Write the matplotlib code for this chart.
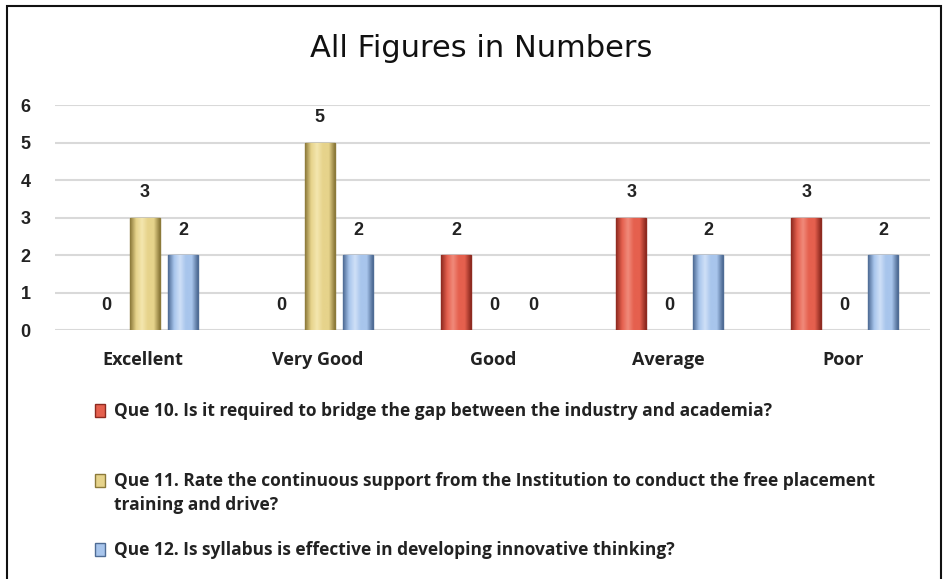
import numpy as np
import matplotlib.pyplot as plt
from matplotlib.patches import Rectangle, Patch
from matplotlib.colors import LinearSegmentedColormap

categories = ["Excellent", "Very Good", "Good", "Average", "Poor"]
que10 = [0, 0, 2, 3, 3]
que11 = [3, 5, 0, 0, 0]
que12 = [2, 2, 0, 2, 2]
labels = [
    "Que 10. Is it required to bridge the gap between the industry and academia?",
    "Que 11. Rate the continuous support from the Institution to conduct the free placement",
    "Que 12. Is syllabus is effective in developing innovative thinking?",
]
label_cont = ["", "training and drive?", ""]
colors = ["#E5604E", "#E6D38B", "#A8C5EC"]
lights = ["#F08A7A", "#F4E6AE", "#CFE0F7"]
darks = ["#8E2A20", "#8C7A3A", "#4F6C95"]

fig = plt.figure(figsize=(9.48, 5.79), dpi=100)
ax = fig.add_axes([0.0585, 0.43, 0.923, 0.3886])

x = np.arange(len(categories))
width = 0.17
offsets = [-0.21, 0.01, 0.23]
for vals, off, c, lt, dk in zip([que10, que11, que12], offsets, colors, lights, darks):
    lw = [1.0 if v else 0 for v in vals]
    b = ax.bar(x + off, vals, width, color=c, edgecolor=dk, linewidth=lw, zorder=3)
    # bevel-like shading across each bar
    cmap = LinearSegmentedColormap.from_list("shade", [dk, c, lt, c, c, dk])
    grad = np.linspace(0, 1, 64).reshape(1, -1)
    for p in b.patches:
        if p.get_height() <= 0:
            continue
        im = ax.imshow(grad, cmap=cmap, aspect="auto", zorder=3.5,
                       extent=(p.get_x(), p.get_x() + p.get_width(), 0, p.get_height()))
        im.set_clip_path(p)
    for xi, v in zip(x + off, vals):
        ax.text(xi, v + 0.66, str(v), ha="center", va="center", fontsize=13,
                fontweight="bold", family="Liberation Sans", color="#222222")

ax.set_xlim(-0.5, len(categories) - 0.5)
ax.set_ylim(0, 6)
ax.set_yticks(range(7))
ax.yaxis.grid(True, color="#D9D9D9", linewidth=1.5, zorder=0)
ax.set_xticks(x)
ax.set_xticklabels(categories, fontsize=13, fontweight="bold", family="Open Sans", color="#222222")
for lbl in ax.get_yticklabels():
    lbl.set_fontweight("bold")
    lbl.set_family("Liberation Sans")
    lbl.set_fontsize(13)
    lbl.set_color("#222222")
ax.tick_params(axis="both", length=0)
ax.tick_params(axis="x", pad=15)
ax.tick_params(axis="y", pad=18)
for s in ax.spines.values():
    s.set_visible(False)

fig.text(0.508, 0.917, "All Figures in Numbers", ha="center", va="center",
         fontsize=22, family=["Liberation Sans Narrow", "DejaVu Sans"], color="#111111")

# legend rows placed one by one, as in the original layout
leg_y = [0.320, 0.199, 0.080]
font = {"family": "Open Sans", "weight": "bold", "size": 12.5}
for c, dk, lab, cont, ly in zip(colors, darks, labels, label_cont, leg_y):
    h = Patch(facecolor=c, edgecolor=dk, linewidth=1.0)
    leg = fig.legend(handles=[h], labels=[lab], loc="upper left", bbox_to_anchor=(0.091, ly),
                     frameon=False, prop=font,
                     handlelength=0.6, handleheight=0.8, handletextpad=0.5, borderpad=0)
    for t in leg.get_texts():
        t.set_color("#222222")
    if cont:
        fig.text(0.1205, ly - 0.071, cont, ha="left", va="center", color="#222222", **font)

fig.patches.append(Rectangle((0.007, -0.02), 0.986, 1.01, transform=fig.transFigure,
                             fill=False, edgecolor="#111111", linewidth=1.5))

fig.savefig("out.png", dpi=100)
